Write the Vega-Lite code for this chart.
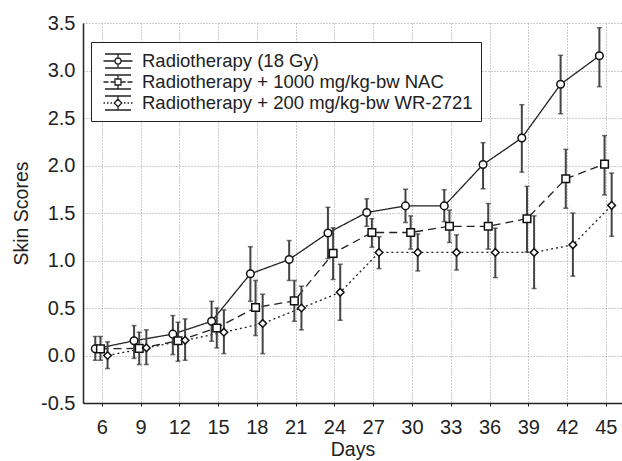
{
  "$schema": "https://vega.github.io/schema/vega-lite/v6.json",
  "width": 539,
  "height": 380,
  "autosize": {"type": "none"},
  "padding": {"left": 83, "top": 23, "right": 0, "bottom": 58},
  "background": "white",
  "config": {"view": {"stroke": null}, "font": "Liberation Sans"},
  "data": {"values": [
    {"group": "Radiotherapy (18 Gy)", "day": 6, "x": 5.5, "score": 0.07, "lo": -0.05, "hi": 0.2},
    {"group": "Radiotherapy (18 Gy)", "day": 9, "x": 8.5, "score": 0.155, "lo": -0.03, "hi": 0.315},
    {"group": "Radiotherapy (18 Gy)", "day": 12, "x": 11.5, "score": 0.225, "lo": 0.01, "hi": 0.42},
    {"group": "Radiotherapy (18 Gy)", "day": 15, "x": 14.5, "score": 0.36, "lo": 0.15, "hi": 0.57},
    {"group": "Radiotherapy (18 Gy)", "day": 18, "x": 17.5, "score": 0.86, "lo": 0.57, "hi": 1.145},
    {"group": "Radiotherapy (18 Gy)", "day": 21, "x": 20.5, "score": 1.01, "lo": 0.79, "hi": 1.21},
    {"group": "Radiotherapy (18 Gy)", "day": 24, "x": 23.5, "score": 1.29, "lo": 1.02, "hi": 1.56},
    {"group": "Radiotherapy (18 Gy)", "day": 27, "x": 26.5, "score": 1.505, "lo": 1.36, "hi": 1.65},
    {"group": "Radiotherapy (18 Gy)", "day": 30, "x": 29.5, "score": 1.575, "lo": 1.4, "hi": 1.75},
    {"group": "Radiotherapy (18 Gy)", "day": 33, "x": 32.5, "score": 1.575, "lo": 1.41, "hi": 1.745},
    {"group": "Radiotherapy (18 Gy)", "day": 36, "x": 35.5, "score": 2.01, "lo": 1.755, "hi": 2.24},
    {"group": "Radiotherapy (18 Gy)", "day": 39, "x": 38.5, "score": 2.29, "lo": 1.93, "hi": 2.64},
    {"group": "Radiotherapy (18 Gy)", "day": 42, "x": 41.5, "score": 2.855, "lo": 2.545, "hi": 3.16},
    {"group": "Radiotherapy (18 Gy)", "day": 45, "x": 44.5, "score": 3.155, "lo": 2.83, "hi": 3.45},
    {"group": "Radiotherapy + 1000 mg/kg-bw NAC", "day": 6, "x": 5.9, "score": 0.07, "lo": -0.05, "hi": 0.2},
    {"group": "Radiotherapy + 1000 mg/kg-bw NAC", "day": 9, "x": 8.9, "score": 0.075, "lo": -0.095, "hi": 0.245},
    {"group": "Radiotherapy + 1000 mg/kg-bw NAC", "day": 12, "x": 11.9, "score": 0.155, "lo": -0.06, "hi": 0.35},
    {"group": "Radiotherapy + 1000 mg/kg-bw NAC", "day": 15, "x": 14.9, "score": 0.29, "lo": 0.08, "hi": 0.5},
    {"group": "Radiotherapy + 1000 mg/kg-bw NAC", "day": 18, "x": 17.9, "score": 0.505, "lo": 0.21, "hi": 0.79},
    {"group": "Radiotherapy + 1000 mg/kg-bw NAC", "day": 21, "x": 20.9, "score": 0.575, "lo": 0.36, "hi": 0.79},
    {"group": "Radiotherapy + 1000 mg/kg-bw NAC", "day": 24, "x": 23.9, "score": 1.075, "lo": 0.8, "hi": 1.345},
    {"group": "Radiotherapy + 1000 mg/kg-bw NAC", "day": 27, "x": 26.9, "score": 1.295, "lo": 1.14, "hi": 1.44},
    {"group": "Radiotherapy + 1000 mg/kg-bw NAC", "day": 30, "x": 29.9, "score": 1.295, "lo": 1.12, "hi": 1.47},
    {"group": "Radiotherapy + 1000 mg/kg-bw NAC", "day": 33, "x": 32.9, "score": 1.36, "lo": 1.19, "hi": 1.53},
    {"group": "Radiotherapy + 1000 mg/kg-bw NAC", "day": 36, "x": 35.9, "score": 1.36, "lo": 1.12, "hi": 1.6},
    {"group": "Radiotherapy + 1000 mg/kg-bw NAC", "day": 39, "x": 38.9, "score": 1.44, "lo": 1.09, "hi": 1.78},
    {"group": "Radiotherapy + 1000 mg/kg-bw NAC", "day": 42, "x": 41.9, "score": 1.86, "lo": 1.55, "hi": 2.17},
    {"group": "Radiotherapy + 1000 mg/kg-bw NAC", "day": 45, "x": 44.9, "score": 2.015, "lo": 1.69, "hi": 2.315},
    {"group": "Radiotherapy + 200 mg/kg-bw WR-2721", "day": 6, "x": 6.45, "score": 0.0, "lo": -0.137, "hi": 0.144},
    {"group": "Radiotherapy + 200 mg/kg-bw WR-2721", "day": 9, "x": 9.45, "score": 0.08, "lo": -0.095, "hi": 0.27},
    {"group": "Radiotherapy + 200 mg/kg-bw WR-2721", "day": 12, "x": 12.45, "score": 0.16, "lo": -0.05, "hi": 0.385},
    {"group": "Radiotherapy + 200 mg/kg-bw WR-2721", "day": 15, "x": 15.45, "score": 0.245, "lo": 0.02, "hi": 0.48},
    {"group": "Radiotherapy + 200 mg/kg-bw WR-2721", "day": 18, "x": 18.45, "score": 0.337, "lo": 0.02, "hi": 0.645},
    {"group": "Radiotherapy + 200 mg/kg-bw WR-2721", "day": 21, "x": 21.45, "score": 0.5, "lo": 0.27, "hi": 0.73},
    {"group": "Radiotherapy + 200 mg/kg-bw WR-2721", "day": 24, "x": 24.45, "score": 0.665, "lo": 0.37, "hi": 0.96},
    {"group": "Radiotherapy + 200 mg/kg-bw WR-2721", "day": 27, "x": 27.45, "score": 1.085, "lo": 0.915, "hi": 1.25},
    {"group": "Radiotherapy + 200 mg/kg-bw WR-2721", "day": 30, "x": 30.45, "score": 1.085, "lo": 0.89, "hi": 1.28},
    {"group": "Radiotherapy + 200 mg/kg-bw WR-2721", "day": 33, "x": 33.45, "score": 1.085, "lo": 0.9, "hi": 1.27},
    {"group": "Radiotherapy + 200 mg/kg-bw WR-2721", "day": 36, "x": 36.45, "score": 1.085, "lo": 0.82, "hi": 1.34},
    {"group": "Radiotherapy + 200 mg/kg-bw WR-2721", "day": 39, "x": 39.45, "score": 1.085, "lo": 0.705, "hi": 1.47},
    {"group": "Radiotherapy + 200 mg/kg-bw WR-2721", "day": 42, "x": 42.45, "score": 1.165, "lo": 0.835, "hi": 1.5},
    {"group": "Radiotherapy + 200 mg/kg-bw WR-2721", "day": 45, "x": 45.45, "score": 1.58, "lo": 1.255, "hi": 1.92}
  ]},
  "encoding": {
    "x": {
      "field": "x", "type": "quantitative",
      "scale": {"domain": [4.55, 46.25], "nice": false, "zero": false},
      "axis": {
        "values": [6, 9, 12, 15, 18, 21, 24, 27, 30, 33, 36, 39, 42, 45],
        "title": "Days", "grid": true, "gridColor": "#9a9a9a", "gridDash": [1, 2], "gridWidth": 1,
        "tickSize": 3, "tickColor": "#222", "domainColor": "#222", "domainWidth": 1.5,
        "labelFont": "Liberation Sans", "labelFontSize": 20, "labelPadding": 11, "labelColor": "#222",
        "labelFlush": false, "labelOverlap": false,
        "titleFont": "Liberation Sans", "titleFontSize": 19.5, "titleFontWeight": "normal", "titleColor": "#222", "titlePadding": 3
      }
    }
  },
  "layer": [
    {
      "mark": {"type": "line", "color": "#222", "strokeWidth": 1.3},
      "encoding": {
        "y": {"field": "score", "type": "quantitative", "scale": {"domain": [-0.5, 3.5], "nice": false, "zero": false},
          "axis": {
            "values": [-0.5, 0, 0.5, 1, 1.5, 2, 2.5, 3, 3.5],
            "labelExpr": "datum.value < 0 ? '-' + format(-datum.value, '.1f') : format(datum.value, '.1f')",
            "title": "Skin Scores", "grid": true, "gridColor": "#9a9a9a", "gridDash": [1, 2], "gridWidth": 1,
            "ticks": false, "tickSize": 0, "domainColor": "#222", "domainWidth": 1.5,
            "labelFont": "Liberation Sans", "labelFontSize": 20, "labelPadding": 8, "labelColor": "#222",
            "labelFlush": false, "labelOverlap": false,
            "titleFont": "Liberation Sans", "titleFontSize": 19.5, "titleFontWeight": "normal", "titleColor": "#222", "titlePadding": 9
          }},
        "strokeDash": {"field": "group", "type": "nominal",
          "scale": {"domain": ["Radiotherapy (18 Gy)", "Radiotherapy + 1000 mg/kg-bw NAC", "Radiotherapy + 200 mg/kg-bw WR-2721"], "range": [[1, 0], [8, 5], [2, 3]]},
          "legend": null}
      }
    },
    {
      "mark": {"type": "rule", "color": "#444", "strokeWidth": 2},
      "encoding": {
        "y": {"field": "lo", "type": "quantitative", "scale": {"domain": [-0.5, 3.5], "nice": false, "zero": false}, "title": "Skin Scores"},
        "y2": {"field": "hi"}
      }
    },
    {
      "mark": {"type": "tick", "orient": "horizontal", "size": 5, "thickness": 1.5, "color": "#333"},
      "encoding": {
        "y": {"field": "lo", "type": "quantitative", "scale": {"domain": [-0.5, 3.5], "nice": false, "zero": false}, "title": "Skin Scores"}
      }
    },
    {
      "mark": {"type": "tick", "orient": "horizontal", "size": 5, "thickness": 1.5, "color": "#333"},
      "encoding": {
        "y": {"field": "hi", "type": "quantitative", "scale": {"domain": [-0.5, 3.5], "nice": false, "zero": false}, "title": "Skin Scores"}
      }
    },
    {
      "mark": {"type": "point", "filled": true, "fill": "white", "stroke": "#111", "strokeWidth": 1.5, "size": 58, "opacity": 1},
      "encoding": {
        "y": {"field": "score", "type": "quantitative", "scale": {"domain": [-0.5, 3.5], "nice": false, "zero": false}, "title": "Skin Scores"},
        "shape": {"field": "group", "type": "nominal",
          "scale": {"domain": ["Radiotherapy (18 Gy)", "Radiotherapy + 1000 mg/kg-bw NAC", "Radiotherapy + 200 mg/kg-bw WR-2721"], "range": ["circle", "square", "diamond"]},
          "legend": null}
      }
    },
    {
      "mark": {"type": "point", "size": 0, "filled": false, "opacity": 1},
      "encoding": {
        "y": {"field": "score", "type": "quantitative", "scale": {"domain": [-0.5, 3.5], "nice": false, "zero": false}, "title": "Skin Scores"},
        "shape": {"field": "group", "type": "nominal",
          "scale": {"domain": ["Radiotherapy (18 Gy)", "Radiotherapy + 1000 mg/kg-bw NAC", "Radiotherapy + 200 mg/kg-bw WR-2721"],
            "range": [
              "M-1.3,-0.7H1.3M-1.3,0.7H1.3M0,-0.7V-0.3M0,0.3V0.7M-1.45,0H-0.3M0.3,0H1.45M0.3,0A0.3,0.3,0,1,1,-0.3,0A0.3,0.3,0,1,1,0.3,0Z",
              "M-1.3,-0.7H1.3M-1.3,0.7H1.3M0,-0.7V-0.3M0,0.3V0.7M-1.45,0H-0.95M-0.75,0H-0.3M0.3,0H0.75M0.95,0H1.45M-0.3,-0.3H0.3V0.3H-0.3Z",
              "M-1.3,-0.7H1.3M-1.3,0.7H1.3M0,-0.7V-0.38M0,0.38V0.7M-1.45,0H-1.3M-1.1,0H-0.95M-0.75,0H-0.6M0.6,0H0.75M0.95,0H1.1M1.3,0H1.45M0,-0.38L0.38,0L0,0.38L-0.38,0Z"
            ]},
          "legend": {
            "orient": "none", "legendX": 8, "legendY": 19, "title": null,
            "labelFont": "Liberation Sans", "labelFontSize": 18.5, "labelColor": "#222", "labelLimit": 0,
            "symbolSize": 400, "symbolStrokeWidth": 1.3, "symbolStrokeColor": "#222", "symbolFillColor": "white",
            "symbolOffset": 8, "labelOffset": 13, "padding": 8, "rowPadding": 0,
            "strokeColor": "#222", "fillColor": "white",
            "encode": {
              "symbols": {"update": {"fill": {"value": "white"}, "stroke": {"value": "#222"}, "strokeWidth": {"value": 1.3}, "opacity": {"value": 1}}},
              "legend": {"update": {"stroke": {"value": "#222"}, "strokeWidth": {"value": 1.2}, "fill": {"value": "white"}}}
            }
          }}
      }
    }
  ],
  "resolve": {"scale": {"shape": "independent"}}
}
